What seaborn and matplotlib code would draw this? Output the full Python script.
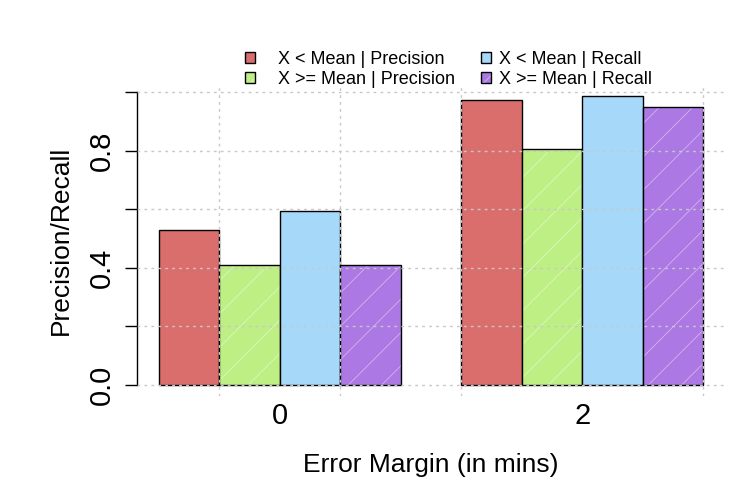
import matplotlib
matplotlib.use('Agg')
import matplotlib.pyplot as plt
import seaborn as sns
import pandas as pd
import numpy as np
from matplotlib.colors import to_rgba

# values
margins = ['0', '2']
series_names = ['X < Mean | Precision', 'X >= Mean | Precision',
                'X < Mean | Recall', 'X >= Mean | Recall']
lt_mean_precision = [0.529, 0.973]
ge_mean_precision = [0.410, 0.805]
lt_mean_recall = [0.594, 0.986]
ge_mean_recall = [0.408, 0.949]
y_ticks = [0.0, 0.2, 0.4, 0.6, 0.8, 1.0]
y_tick_labels = ['0.0', '', '0.4', '', '0.8', '']

colors = ['#DA6E6C', '#BEEF85', '#A6D8FA', '#AC78E3']
hatched = [False, True, False, True]

df = pd.DataFrame({
    'margin': margins * len(series_names),
    'series': np.repeat(series_names, len(margins)),
    'value': lt_mean_precision + ge_mean_precision + lt_mean_recall + ge_mean_recall,
})

plt.rcParams['font.family'] = ['Liberation Sans', 'DejaVu Sans']
plt.rcParams['hatch.linewidth'] = 0.6

fig = plt.figure(figsize=(7.5, 5), dpi=100)
ax = fig.add_axes([137 / 750, 1 - 396 / 500, (725 - 137) / 750, (396 - 85) / 500])

sns.barplot(data=df, x='margin', y='value', hue='series', order=margins,
            hue_order=series_names, palette=colors, saturation=1,
            edgecolor='black', linewidth=1, width=0.8, errorbar=None,
            legend=False, ax=ax)

# shaded look for the ">= Mean" bars
for cont, h in zip(ax.containers, hatched):
    if not h:
        continue
    for p in cont.patches:
        p.set_hatch('/')
        p._hatch_color = to_rgba('white', 0.45)

# axes limits like R's barplot (4% padding)
ax.set_xlim(-0.472, 1.472)
ax.set_ylim(-0.0375, 1.024)

ax.set_yticks(y_ticks)
ax.set_yticklabels(y_tick_labels)
ax.tick_params(axis='y', labelsize=21, labelrotation=90, length=9, width=1, pad=6)
for lbl in ax.get_yticklabels():
    lbl.set_va('center')

ax.set_xticks([0, 1])
ax.set_xticklabels(margins)
ax.tick_params(axis='x', which='both', labelsize=21, length=0, pad=4)

# vertical grid lines at every other bar edge (R's grid())
bar_w = 0.2
ax.set_xticks(-0.4 + bar_w * np.arange(1, 10, 2), minor=True)

ax.set_axisbelow(False)
grid_kw = dict(color='#C8C8C8', linestyle=(0, (2, 3)), linewidth=1)
ax.grid(axis='y', which='major', **grid_kw)
ax.grid(axis='x', which='minor', **grid_kw)
ax.grid(axis='x', which='major', visible=False)

for side in ['top', 'right', 'bottom']:
    ax.spines[side].set_visible(False)
ax.spines['left'].set_bounds(0, 1)
ax.spines['left'].set_linewidth(1)

ax.set_xlabel('Error Margin (in mins)', fontsize=19, labelpad=17)
ax.set_ylabel('Precision/Recall', fontsize=19, labelpad=11)

# two legend columns placed separately, like R's legend
handles = [cont.patches[0] for cont in ax.containers]
leg_kw = dict(frameon=False, fontsize=13, handlelength=0.55, handleheight=0.55,
              handletextpad=1.3, labelspacing=0.15, borderpad=0, borderaxespad=0,
              loc='upper left', bbox_transform=fig.transFigure)
leg1 = ax.legend(handles[:2], series_names[:2], bbox_to_anchor=(245 / 750, 1 - 51 / 500), **leg_kw)
ax.add_artist(leg1)
leg_kw['handletextpad'] = 0.45
ax.legend(handles[2:], series_names[2:], bbox_to_anchor=(481 / 750, 1 - 51 / 500), **leg_kw)

fig.savefig('out.png', dpi=100)
